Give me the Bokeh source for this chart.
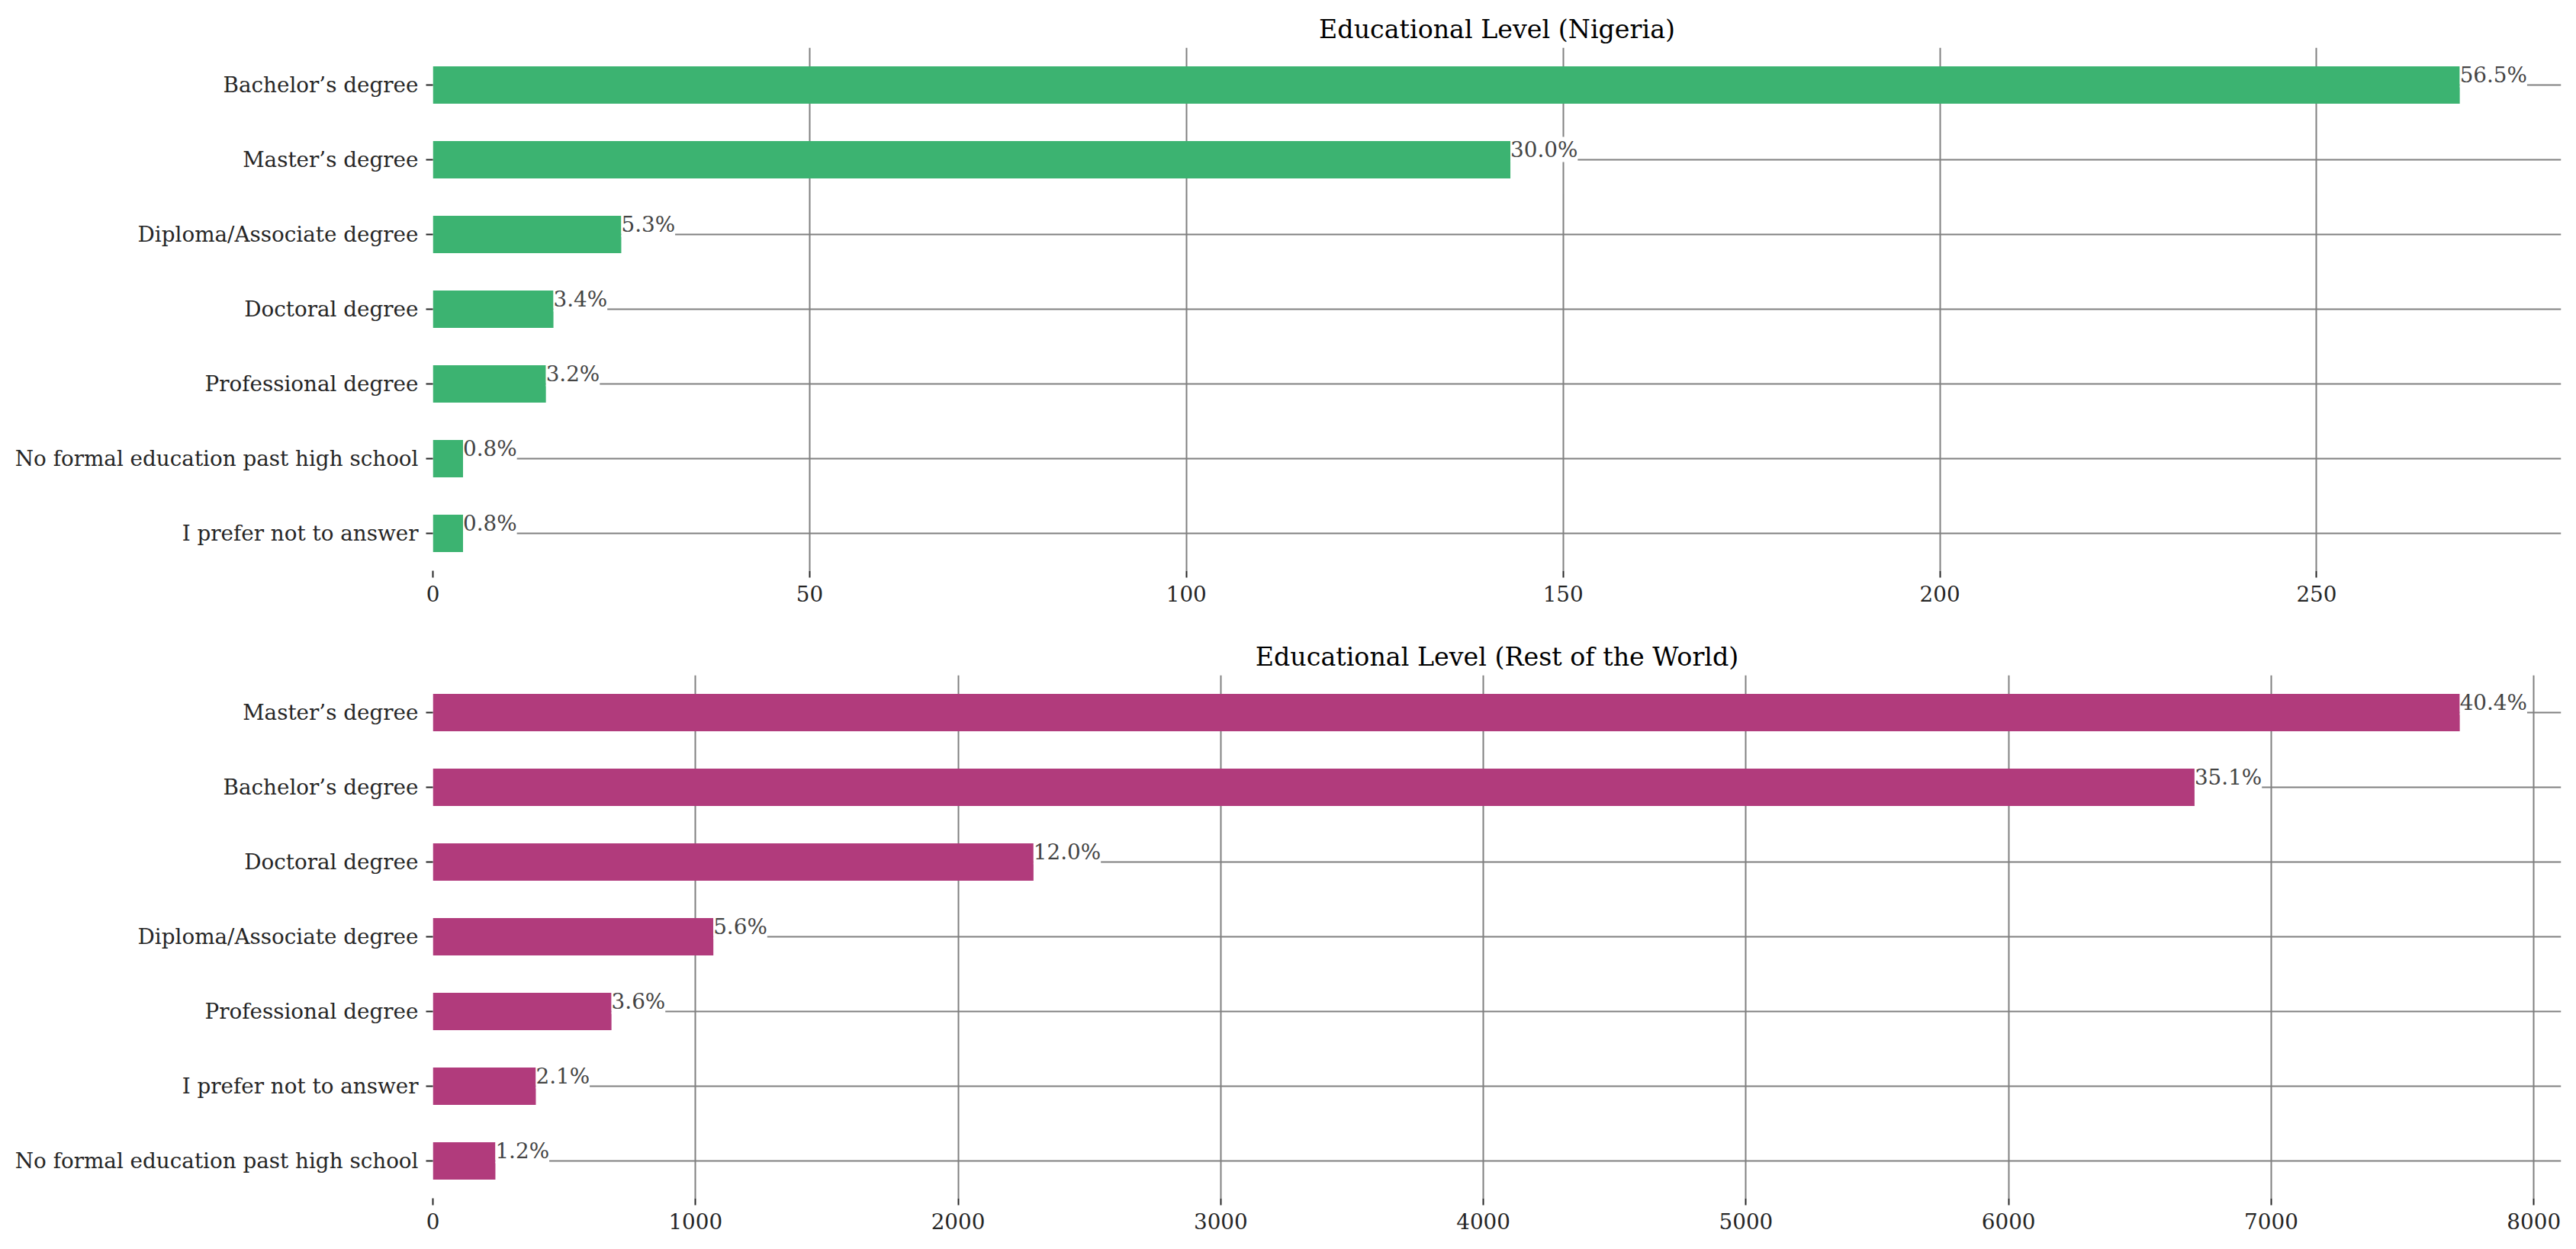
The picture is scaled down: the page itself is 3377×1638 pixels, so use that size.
from bokeh.plotting import figure
from bokeh.layouts import column
from bokeh.models import ColumnDataSource, FactorRange, Range1d, SingleIntervalTicker
from bokeh.core.properties import value
from bokeh.embed import file_html
from bokeh.resources import INLINE

# ---- data ----
nigeria_categories = [
    "Bachelor’s degree",
    "Master’s degree",
    "Diploma/Associate degree",
    "Doctoral degree",
    "Professional degree",
    "No formal education past high school",
    "I prefer not to answer",
]
nigeria_counts = [269, 143, 25, 16, 15, 4, 4]

world_categories = [
    "Master’s degree",
    "Bachelor’s degree",
    "Doctoral degree",
    "Diploma/Associate degree",
    "Professional degree",
    "I prefer not to answer",
    "No formal education past high school",
]
world_counts = [7718, 6708, 2287, 1068, 680, 392, 238]

nigeria_title = "Educational Level (Nigeria)"
world_title = "Educational Level (Rest of the World)"
nigeria_tick_step = 50
world_tick_step = 1000

GREEN = "#3CB371"
PINK = "#B13B7C"
FONT = "DejaVu Serif"
TICK_FS = "27.8px"
TITLE_FS = "33.3px"
GRID = "#808080"
DARK = "#262626"


def make_panel(cats, counts, color, title, step, height, border_top, border_bottom):
    total = sum(counts)
    labels = ["%.1f%%" % (c / total * 100) for c in counts]
    src = ColumnDataSource(dict(cat=cats, count=counts, label=labels))
    p = figure(
        width=3367, height=height,
        y_range=FactorRange(factors=list(reversed(cats))),
        x_range=Range1d(0, max(counts) * 1.05),
        output_backend="svg", toolbar_location=None,
        min_border_left=567, min_border_right=10,
        min_border_top=border_top, min_border_bottom=border_bottom,
    )
    p.hbar(y="cat", right="count", left=0, height=0.5, source=src,
           fill_color=color, line_color=None)
    p.text(x="count", y="cat", text="label", source=src,
           text_font=value(FONT), text_font_size=TICK_FS, text_color="#444444",
           text_baseline="bottom", text_align="left", y_offset=3, x_offset=0,
           background_fill_color="white", padding=0)

    p.title.text = title
    p.title.align = "center"
    p.title.text_font = FONT
    p.title.text_font_size = TITLE_FS
    p.title.text_font_style = "normal"
    p.title.text_color = "black"

    p.outline_line_color = None
    p.xaxis.ticker = SingleIntervalTicker(interval=step, num_minor_ticks=0)
    for ax in (p.xaxis[0], p.yaxis[0]):
        ax.axis_line_color = None
        ax.major_tick_in = 0
        ax.major_tick_out = 9
        ax.major_tick_line_color = DARK
        ax.major_tick_line_width = 2
        ax.minor_tick_line_color = None
        ax.major_label_text_font = FONT
        ax.major_label_text_font_size = TICK_FS
        ax.major_label_text_color = DARK
        ax.major_label_standoff = 10
    p.xgrid.grid_line_color = GRID
    p.xgrid.grid_line_width = 2
    p.ygrid.grid_line_color = GRID
    p.ygrid.grid_line_width = 2
    return p


p1 = make_panel(nigeria_categories, nigeria_counts, GREEN, nigeria_title,
                nigeria_tick_step, 808, 62, 60)
p2 = make_panel(world_categories, world_counts, PINK, world_title,
                world_tick_step, 813, 77, 50)

layout = column(p1, p2, spacing=0)
open("out.html", "w").write(file_html(layout, INLINE))
